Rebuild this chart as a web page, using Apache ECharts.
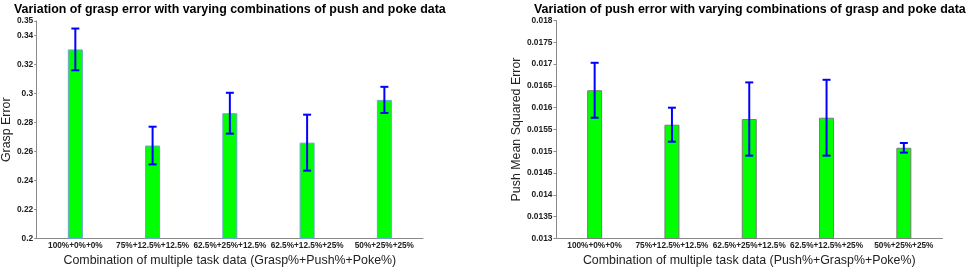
<!DOCTYPE html>
<html>
<head>
<meta charset="utf-8">
<script src="https://cdn.jsdelivr.net/npm/echarts@6/dist/echarts.min.js"></script>
<style>html,body{margin:0;padding:0;background:#fff}#c{width:969px;height:272px}</style>
</head>
<body>
<div id="c"></div>
<script>
const categories = ['100%+0%+0%', '75%+12.5%+12.5%', '62.5%+25%+12.5%', '62.5%+12.5%+25%', '50%+25%+25%'];
const graspMean = [0.3304, 0.2641, 0.2864, 0.2661, 0.2956];
const graspErr = [0.0144, 0.0130, 0.0141, 0.0193, 0.0090];
const pushMean = [0.01640, 0.01561, 0.01574, 0.01577, 0.01508];
const pushErr = [0.00063, 0.00039, 0.00084, 0.00087, 0.00011];
const titles = ['Variation of grasp error with varying combinations of push and poke data',
                'Variation of push error with varying combinations of grasp and poke data'];
const yNames = ['Grasp Error', 'Push Mean Squared Error'];
const xNames = ['Combination of multiple task data (Grasp%+Push%+Poke%)',
                'Combination of multiple task data (Push%+Grasp%+Poke%)'];

const FONT = 'Liberation Sans, Arial, sans-serif';
const axisColor = '#8a8a8a';

function errData(mean, err) {
  return mean.map((m, i) => [i, m - err[i], m + err[i]]);
}
function renderErr(params, api) {
  const lo = api.coord([api.value(0), api.value(1)]);
  const hi = api.coord([api.value(0), api.value(2)]);
  const hw = 4;
  const style = {stroke: '#0000ff', lineWidth: 2};
  return {
    type: 'group',
    children: [
      {type: 'line', shape: {x1: lo[0], y1: lo[1], x2: hi[0], y2: hi[1]}, style},
      {type: 'line', shape: {x1: lo[0] - hw, y1: lo[1], x2: lo[0] + hw, y2: lo[1]}, style},
      {type: 'line', shape: {x1: hi[0] - hw, y1: hi[1], x2: hi[0] + hw, y2: hi[1]}, style}
    ]
  };
}
function fmt(v) { return String(+v.toFixed(5)); }

const chart = echarts.init(document.getElementById('c'), null, {renderer: 'canvas'});
const grids = [
  {left: 36, right: 546, top: 21, bottom: 28.5},
  {left: 556, right: 26.5, top: 20.5, bottom: 28}
];
const yRanges = [[0.2, 0.35, 0.02], [0.013, 0.018, 0.0005]];
const borderColors = ['#6fa0d8', '#7a7a7a'];
const means = [graspMean, pushMean];
const errs = [graspErr, pushErr];

const titleStyle = {fontFamily: FONT, fontSize: 12.4, fontWeight: 'bold', color: '#000'};
const option = {
  animation: false,
  title: [
    {text: titles[0], left: 14, top: 4, padding: 0, textStyle: titleStyle},
    {text: titles[1], left: 534, top: 4, padding: 0, textStyle: titleStyle}
  ],
  grid: grids,
  xAxis: [0, 1].map(i => ({
    type: 'category', gridIndex: i, data: categories,
    name: xNames[i], nameLocation: 'middle', nameGap: 16.5,
    nameTextStyle: {fontFamily: FONT, fontSize: 12.4, color: '#222'},
    axisLine: {lineStyle: {color: axisColor}},
    axisTick: {show: false},
    axisLabel: {fontFamily: FONT, fontSize: 8.25, fontWeight: 'bold', color: '#222', margin: 3, interval: 0}
  })),
  yAxis: [0, 1].map(i => ({
    type: 'value', gridIndex: i, min: yRanges[i][0], max: yRanges[i][1], interval: yRanges[i][2],
    name: yNames[i], nameLocation: 'middle', nameGap: i === 0 ? 17 : 29,
    nameTextStyle: {fontFamily: FONT, fontSize: 12.4, color: '#222'},
    axisLine: {show: true, lineStyle: {color: axisColor}},
    axisTick: {show: true, inside: false, length: 2.5, lineStyle: {color: axisColor}},
    splitLine: {show: false},
    axisLabel: {fontFamily: FONT, fontSize: 8.4, fontWeight: 'bold', color: '#222', margin: 3.5, formatter: fmt}
  })),
  series: [0, 1].flatMap(i => [
    {
      type: 'bar', xAxisIndex: i, yAxisIndex: i, data: means[i], barWidth: 15,
      itemStyle: {color: '#00ff00', borderColor: borderColors[i], borderWidth: 1}
    },
    {
      type: 'custom', xAxisIndex: i, yAxisIndex: i, data: errData(means[i], errs[i]),
      renderItem: renderErr, encode: {x: 0, y: [1, 2]}, z: 5
    }
  ])
};
chart.setOption(option);
</script>
</body>
</html>
